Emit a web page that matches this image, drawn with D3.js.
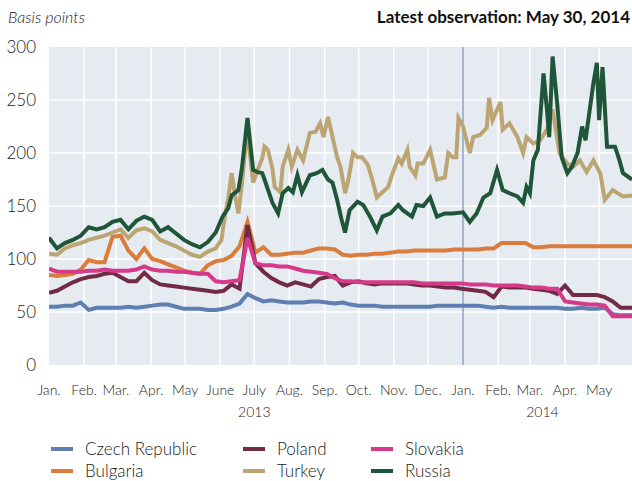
<!DOCTYPE html>
<html><head><meta charset="utf-8">
<script src="https://cdn.jsdelivr.net/npm/d3@7"></script>
<style>
html,body{margin:0;padding:0;background:#fff;}
svg{display:block;font-family:Lato,"Open Sans",sans-serif;}
</style></head>
<body><svg id="c" width="632" height="481"></svg>
<script>
const weeklyDates = ["2013-01-01","2013-01-08","2013-01-15","2013-01-22","2013-01-29","2013-02-05","2013-02-12","2013-02-19","2013-02-26","2013-03-05","2013-03-12","2013-03-19","2013-03-26","2013-04-02","2013-04-09","2013-04-16","2013-04-23","2013-04-30","2013-05-07","2013-05-14","2013-05-21","2013-05-28","2013-06-04","2013-06-11","2013-06-18","2013-06-25","2013-07-02","2013-07-09","2013-07-16","2013-07-23","2013-07-30","2013-08-06","2013-08-13","2013-08-20","2013-08-27","2013-09-03","2013-09-10","2013-09-17","2013-09-24","2013-10-01","2013-10-08","2013-10-15","2013-10-22","2013-10-29","2013-11-05","2013-11-12","2013-11-19","2013-11-26","2013-12-03","2013-12-10","2013-12-17","2013-12-24","2013-12-31","2014-01-07","2014-01-14","2014-01-21","2014-01-28","2014-02-04","2014-02-11","2014-02-18","2014-02-25","2014-03-04","2014-03-11","2014-03-18","2014-03-25","2014-04-01","2014-04-08","2014-04-15","2014-04-22","2014-04-29","2014-05-06","2014-05-13","2014-05-20","2014-05-27","2014-05-30"];

const czech = [55,55,56,56,59,52,54,54,54,54,55,54,55,56,57,57,55,53,53,53,52,52,53,55,58,67,63,60,61,60,59,59,59,60,60,59,58,59,57,56,56,56,55,55,55,55,55,55,55,56,56,56,56,56,56,55,54,55,54,54,54,54,54,54,54,53,53,54,53,53,54,48,47,47,47];
const bulgaria = [85,84,85,86,90,99,97,97,121,122,108,100,110,100,98,95,92,89,87,86,94,98,99,103,112,135,106,111,104,104,105,106,106,108,110,110,109,104,103,104,104,105,105,106,107,107,108,108,108,108,108,109,109,109,109,110,110,115,115,115,115,111,111,112,112,112,112,112,112,112,112,112,112,112,112];
const poland = [68,70,74,78,81,83,84,86,87,83,79,79,87,80,76,75,74,73,72,71,70,69,70,76,72,132,96,88,82,78,75,78,76,74,81,83,84,75,78,79,77,76,77,77,77,77,76,75,75,74,73,73,72,71,70,69,64,74,73,73,73,72,71,70,67,75,66,66,66,66,64,60,54,54,54];
const slovakia = [91,88,88,88,88,89,89,90,89,89,89,90,93,90,89,89,88,88,87,86,86,79,78,79,80,120,96,94,94,93,93,91,89,88,87,86,82,79,79,78,78,78,78,78,78,78,78,77,77,77,77,77,77,76,76,76,75,75,75,75,74,73,73,72,72,60,59,58,57,57,56,46,46,46,46];

const turkeyDates = ["2013-01-01","2013-01-08","2013-01-15","2013-01-22","2013-01-29","2013-02-05","2013-02-12","2013-02-19","2013-02-26","2013-03-05","2013-03-12","2013-03-19","2013-03-26","2013-04-02","2013-04-09","2013-04-16","2013-04-23","2013-04-30","2013-05-07","2013-05-14","2013-05-21","2013-05-28",
"2013-06-02","2013-06-05","2013-06-08","2013-06-11","2013-06-14","2013-06-17","2013-06-20","2013-06-25","2013-06-27","2013-06-30","2013-07-04","2013-07-08","2013-07-10","2013-07-13","2013-07-17","2013-07-19","2013-07-24","2013-07-26","2013-07-31","2013-08-03","2013-08-08","2013-08-13","2013-08-19","2013-08-24","2013-08-28","2013-08-31","2013-09-04","2013-09-08","2013-09-12","2013-09-15","2013-09-19","2013-09-22","2013-09-26","2013-09-30","2013-10-04","2013-10-09","2013-10-13","2013-10-17","2013-10-22","2013-10-27","2013-10-31","2013-11-05","2013-11-08","2013-11-13","2013-11-15","2013-11-20","2013-11-22","2013-11-27","2013-12-03","2013-12-09","2013-12-16","2013-12-19","2013-12-23","2013-12-26","2013-12-28","2014-01-01","2014-01-07","2014-01-10","2014-01-16","2014-01-22","2014-01-24","2014-01-27","2014-02-03","2014-02-05","2014-02-11","2014-02-18","2014-02-23","2014-02-26","2014-03-04","2014-03-10","2014-03-16","2014-03-21","2014-03-27","2014-04-03","2014-04-08","2014-04-14","2014-04-20","2014-04-26","2014-05-02","2014-05-06","2014-05-13","2014-05-22","2014-05-30"];
const turkey = [105,104,110,113,115,118,120,122,125,128,120,127,129,126,118,115,112,108,104,102,107,110,
118,140,157,181,160,143,170,225,200,172,184,195,206,203,185,168,163,187,203,187,203,193,219,220,228,215,234,215,196,187,162,175,200,196,196,189,175,158,163,168,181,195,190,203,187,179,190,190,203,175,177,200,196,196,233,225,200,215,217,224,252,231,248,222,228,215,200,215,209,212,222,241,200,190,187,193,182,193,181,156,165,159,160];

const russiaDates = ["2013-01-01","2013-01-08","2013-01-15","2013-01-22","2013-01-29","2013-02-05","2013-02-12","2013-02-19","2013-02-26","2013-03-05","2013-03-12","2013-03-19","2013-03-26","2013-04-02","2013-04-09","2013-04-16","2013-04-23","2013-04-30","2013-05-07","2013-05-14","2013-05-21","2013-05-28",
"2013-06-03","2013-06-08","2013-06-11","2013-06-17","2013-06-20","2013-06-25","2013-06-30","2013-07-04","2013-07-08","2013-07-10","2013-07-17","2013-07-22","2013-07-26","2013-07-31","2013-08-04","2013-08-08","2013-08-12","2013-08-19","2013-08-25","2013-08-30","2013-09-04","2013-09-08","2013-09-12","2013-09-16","2013-09-19","2013-09-23","2013-09-30","2013-10-05","2013-10-11","2013-10-17","2013-10-22","2013-10-29","2013-11-05","2013-11-09","2013-11-17","2013-11-21","2013-11-27","2013-12-03","2013-12-09","2013-12-16","2013-12-23","2014-01-01","2014-01-07","2014-01-13","2014-01-19","2014-01-25","2014-01-31","2014-02-05","2014-02-11","2014-02-18","2014-02-23","2014-02-26","2014-03-01","2014-03-04","2014-03-08","2014-03-13","2014-03-16","2014-03-18","2014-03-21","2014-03-25","2014-03-29","2014-04-03","2014-04-07","2014-04-12","2014-04-16","2014-04-19","2014-04-26","2014-04-29","2014-05-01","2014-05-04","2014-05-08","2014-05-15","2014-05-19","2014-05-22","2014-05-30"];
const russia = [120,110,115,118,122,130,128,130,135,137,128,136,140,137,126,130,124,118,114,111,116,125,
140,148,160,165,185,233,184,182,181,175,153,143,162,167,163,179,163,179,181,184,175,172,156,137,125,146,154,151,140,127,140,143,151,146,140,151,150,158,140,143,143,144,135,143,158,162,184,165,162,159,153,168,162,193,203,275,241,215,291,247,196,181,187,200,225,212,266,285,231,281,206,206,193,181,175];

const seriesNames = ["Czech Republic","Bulgaria","Poland","Turkey","Slovakia","Russia"];
const seriesDates = [weeklyDates, weeklyDates, weeklyDates, turkeyDates, weeklyDates, russiaDates];
const seriesValues = [czech, bulgaria, poland, turkey, slovakia, russia];
const seriesColors = ["#5d7fb1","#d97c3c","#722b45","#bba673","#d6398a","#1f5538"];
const yTicks = [0,50,100,150,200,250,300];
const monthLabels = ["Jan.","Feb.","Mar.","Apr.","May","June","July","Aug.","Sep.","Oct.","Nov.","Dec.","Jan.","Feb.","Mar.","Apr.","May"];
const yearLabels = [["2013","2013-07-01"],["2014","2014-03-12"]];
const legendOrder = [["Czech Republic","Bulgaria"],["Poland","Turkey"],["Slovakia","Russia"]];

const parse = d3.timeParse("%Y-%m-%d");
const svg = d3.select("#c");
const L = 49, R = 632, T = 47, B = 365;
const x = d3.scaleTime().domain([parse("2013-01-01"), parse("2014-05-30")]).range([L, R]);
const y = d3.scaleLinear().domain([0, 300]).range([B, T]);
const textCol = "#1a1a1a";

svg.append("rect").attr("x", L).attr("y", T).attr("width", R - L).attr("height", B - T).attr("fill", "#e6ebf2");

const months = d3.timeMonth.range(parse("2013-01-01"), parse("2014-06-01"));
svg.append("g").selectAll("line").data(yTicks.filter(v => v > 0 && v < 300)).join("line")
  .attr("x1", L).attr("x2", R).attr("y1", d => y(d)).attr("y2", d => y(d))
  .attr("stroke", "#fff").attr("stroke-width", 1.5);
svg.append("g").selectAll("line").data(months.slice(1)).join("line")
  .attr("x1", d => x(d)).attr("x2", d => x(d)).attr("y1", T).attr("y2", B)
  .attr("stroke", d => (d.getMonth() === 0 ? "#8fa3c6" : "#fff"))
  .attr("stroke-width", 1.5);

const clipId = "clipplot";
svg.append("clipPath").attr("id", clipId).append("rect").attr("x", L).attr("y", T - 5).attr("width", R - L).attr("height", B - T + 5);
const gl = svg.append("g").attr("clip-path", `url(#${clipId})`);
seriesValues.forEach((vals, i) => {
  const ds = seriesDates[i];
  const line = d3.line().x((d, j) => x(parse(ds[j]))).y(d => y(d));
  gl.append("path").attr("d", line(vals)).attr("fill", "none")
    .attr("stroke", seriesColors[i]).attr("stroke-width", 4)
    .attr("stroke-linejoin", "miter").attr("stroke-miterlimit", 4);
});

svg.append("g").selectAll("text").data(yTicks).join("text")
  .attr("x", 36).attr("y", d => y(d)).attr("dy", "0.35em")
  .attr("text-anchor", "end").attr("font-size", 17).attr("font-weight", 300).attr("fill", textCol).text(d => d);

svg.append("g").selectAll("text").data(months).join("text")
  .attr("x", d => x(d)).attr("y", 395)
  .attr("text-anchor", "middle").attr("font-size", 14).attr("font-weight", 300).attr("fill", textCol)
  .text((d, i) => monthLabels[i]);
svg.append("g").selectAll("text").data(yearLabels).join("text")
  .attr("x", d => x(parse(d[1]))).attr("y", 417)
  .attr("text-anchor", "middle").attr("font-size", 14).attr("font-weight", 300).attr("fill", textCol).text(d => d[0]);

svg.append("text").attr("x", 8).attr("y", 23).attr("font-size", 16).attr("font-style", "italic").attr("font-weight", 300)
  .attr("fill", textCol).text("Basis points");
svg.append("text").attr("x", 630).attr("y", 23).attr("font-size", 17).attr("font-weight", "bold")
  .attr("text-anchor", "end").attr("fill", "#111").text("Latest observation: May 30, 2014");

const colX = [51, 243, 371];
const rowY = [449, 471];
legendOrder.forEach((col, ci) => {
  col.forEach((name, ri) => {
    const idx = seriesNames.indexOf(name);
    const g = svg.append("g").attr("transform", `translate(${colX[ci]},${rowY[ri]})`);
    g.append("line").attr("x1", 0).attr("x2", 22).attr("y1", 0).attr("y2", 0)
      .attr("stroke", seriesColors[idx]).attr("stroke-width", 4);
    g.append("text").attr("x", 34).attr("y", 0).attr("dy", "0.35em")
      .attr("font-size", 17).attr("font-weight", 300).attr("fill", textCol).text(name);
  });
});
</script></body></html>
